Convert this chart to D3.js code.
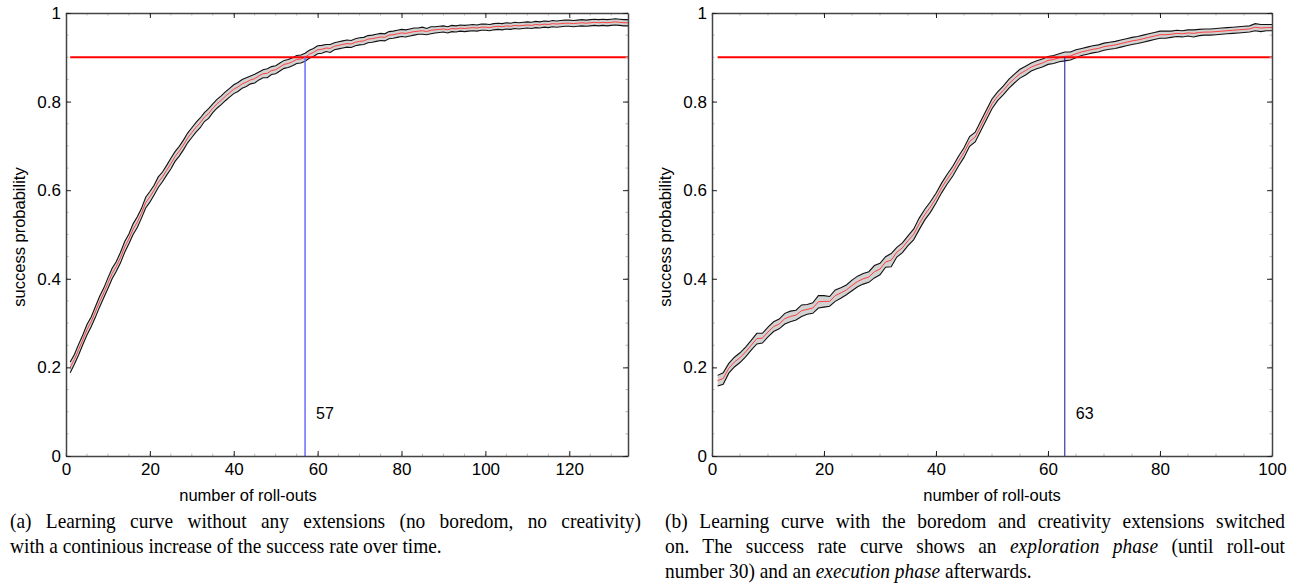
<!DOCTYPE html>
<html lang="en">
<head>
  <meta charset="utf-8">
  <script src="https://d3js.org/d3.v7.min.js"></script>
  <style>
    html, body { margin: 0; padding: 0; background: #fff; }
    svg { display: block; }
    .tick-label { font-family: "Liberation Sans", Arial, sans-serif; font-size: 17px; fill: #000; }
    .axis-title { font-family: "Liberation Sans", Arial, sans-serif; font-size: 16.5px; fill: #000; }
    .mark-label { font-family: "Liberation Sans", Arial, sans-serif; font-size: 16px; fill: #000; }
    .caption { font-family: "Liberation Serif", "Times New Roman", serif; font-size: 20px; fill: #000; }
  </style>
</head>
<body>
  <svg width="1295" height="587"></svg>

  <script>
    const width = 1295, height = 587;

    // (a) success probability per roll-out, no extensions (roll-outs 1..134)
    const meanA = [
      0.200, 0.218, 0.240, 0.262, 0.285, 0.303, 0.325, 0.348, 0.368, 0.390,
      0.412, 0.428, 0.448, 0.472, 0.490, 0.512, 0.528, 0.548, 0.572, 0.585,
      0.600, 0.618, 0.630, 0.645, 0.660, 0.676, 0.688, 0.702, 0.718, 0.730,
      0.742, 0.752, 0.765, 0.773, 0.785, 0.795, 0.803, 0.812, 0.820, 0.828,
      0.833, 0.840, 0.844, 0.849, 0.852, 0.858, 0.863, 0.864, 0.870, 0.872,
      0.878, 0.884, 0.886, 0.890, 0.895, 0.896, 0.900, 0.907, 0.911, 0.917,
      0.918, 0.921, 0.920, 0.925, 0.927, 0.929, 0.931, 0.930, 0.934, 0.936,
      0.937, 0.941, 0.942, 0.944, 0.946, 0.945, 0.950, 0.951, 0.953, 0.955,
      0.954, 0.956, 0.958, 0.959, 0.960, 0.958, 0.961, 0.962, 0.963, 0.964,
      0.962, 0.965, 0.964, 0.966, 0.965, 0.966, 0.967, 0.966, 0.968, 0.968,
      0.967, 0.969, 0.970, 0.969, 0.971, 0.970, 0.972, 0.971, 0.972, 0.973,
      0.972, 0.974, 0.973, 0.975, 0.974, 0.976, 0.975, 0.976, 0.977, 0.977,
      0.976, 0.977, 0.978, 0.977, 0.978, 0.979, 0.978, 0.979, 0.978, 0.979,
      0.980, 0.979, 0.978, 0.978
    ];
    // half width of the grey band
    const errA = [
      0.012, 0.011, 0.012, 0.011, 0.012, 0.011, 0.012, 0.012, 0.011, 0.012,
      0.012, 0.011, 0.012, 0.012, 0.011, 0.012, 0.012, 0.011, 0.012, 0.012,
      0.011, 0.012, 0.011, 0.011, 0.012, 0.011, 0.011, 0.011, 0.011, 0.011,
      0.011, 0.011, 0.010, 0.011, 0.010, 0.010, 0.010, 0.010, 0.010, 0.010,
      0.010, 0.010, 0.010, 0.009, 0.010, 0.009, 0.009, 0.010, 0.009, 0.009,
      0.009, 0.009, 0.009, 0.009, 0.009, 0.009, 0.009, 0.009, 0.009, 0.009,
      0.009, 0.008, 0.009, 0.008, 0.008, 0.008, 0.008, 0.008, 0.008, 0.008,
      0.008, 0.008, 0.008, 0.008, 0.008, 0.008, 0.008, 0.008, 0.008, 0.008,
      0.008, 0.008, 0.008, 0.007, 0.008, 0.007, 0.008, 0.007, 0.007, 0.007,
      0.007, 0.007, 0.007, 0.007, 0.007, 0.007, 0.007, 0.007, 0.007, 0.007,
      0.007, 0.007, 0.007, 0.007, 0.007, 0.007, 0.007, 0.007, 0.007, 0.007,
      0.007, 0.007, 0.007, 0.007, 0.007, 0.007, 0.007, 0.007, 0.007, 0.007,
      0.007, 0.007, 0.007, 0.007, 0.007, 0.007, 0.007, 0.007, 0.007, 0.007,
      0.007, 0.007, 0.007, 0.007
    ];

    // (b) boredom + creativity switched on (roll-outs 1..100)
    const meanB = [
      0.170, 0.175, 0.198, 0.212, 0.222, 0.235, 0.250, 0.265, 0.266, 0.280,
      0.292, 0.298, 0.310, 0.315, 0.318, 0.328, 0.331, 0.334, 0.348, 0.349,
      0.349, 0.362, 0.368, 0.375, 0.385, 0.394, 0.400, 0.404, 0.416, 0.422,
      0.438, 0.442, 0.460, 0.470, 0.486, 0.500, 0.524, 0.545, 0.562, 0.582,
      0.605, 0.625, 0.643, 0.665, 0.685, 0.710, 0.720, 0.745, 0.770, 0.795,
      0.812, 0.825, 0.840, 0.852, 0.863, 0.870, 0.878, 0.883, 0.887, 0.893,
      0.895, 0.899, 0.902, 0.903, 0.908, 0.912, 0.915, 0.918, 0.920, 0.924,
      0.926, 0.928, 0.931, 0.934, 0.937, 0.939, 0.942, 0.945, 0.948, 0.951,
      0.951, 0.952, 0.954, 0.953, 0.955, 0.954, 0.956, 0.957, 0.957, 0.958,
      0.959, 0.960, 0.961, 0.962, 0.963, 0.964, 0.968, 0.966, 0.967, 0.967
    ];
    const errB = [
      0.012, 0.013, 0.011, 0.011, 0.011, 0.011, 0.011, 0.012, 0.011, 0.011,
      0.011, 0.011, 0.012, 0.012, 0.011, 0.013, 0.011, 0.012, 0.014, 0.013,
      0.011, 0.013, 0.012, 0.011, 0.012, 0.012, 0.012, 0.012, 0.014, 0.013,
      0.012, 0.015, 0.011, 0.011, 0.011, 0.012, 0.013, 0.012, 0.012, 0.011,
      0.011, 0.011, 0.011, 0.011, 0.011, 0.011, 0.011, 0.011, 0.011, 0.011,
      0.010, 0.010, 0.010, 0.010, 0.010, 0.010, 0.009, 0.009, 0.009, 0.009,
      0.009, 0.009, 0.010, 0.009, 0.009, 0.008, 0.008, 0.008, 0.008, 0.008,
      0.008, 0.008, 0.008, 0.008, 0.008, 0.008, 0.008, 0.008, 0.008, 0.008,
      0.008, 0.007, 0.007, 0.007, 0.007, 0.008, 0.007, 0.007, 0.007, 0.007,
      0.007, 0.007, 0.007, 0.007, 0.007, 0.007, 0.008, 0.008, 0.007, 0.007
    ];

    const yTicks = [0, 0.2, 0.4, 0.6, 0.8, 1];
    const xTicksA = [0, 20, 40, 60, 80, 100, 120];
    const xTicksB = [0, 20, 40, 60, 80, 100];
    const threshold = 0.9;
    const crossA = 57, crossB = 63;

    const captionA = [
      [["(a) Learning curve without any extensions (no boredom, no creativity)", false]],
      [["with a continious increase of the success rate over time.", false]]
    ];
    const captionB = [
      [["(b) Learning curve with the boredom and creativity extensions switched", false]],
      [["on. The success rate curve shows an ", false], ["exploration phase", true], [" (until roll-out", false]],
      [["number 30) and an ", false], ["execution phase", true], [" afterwards.", false]]
    ];

    const svg = d3.select("svg");

    function drawPanel(opt) {
      const x = d3.scaleLinear().domain(opt.xDomain).range(opt.xRange);
      const y = d3.scaleLinear().domain([0, 1]).range([456, 13]);
      const g = svg.append("g");

      const rows = opt.mean.map((m, i) => ({ r: i + 1, m, e: opt.err[i] }));

      // band
      g.append("path")
        .datum(rows)
        .attr("fill", "#d2d2d2")
        .attr("d", d3.area().x(d => x(d.r)).y0(d => y(d.m - d.e)).y1(d => y(d.m + d.e)));
      [1, -1].forEach(s => {
        g.append("path")
          .datum(rows)
          .attr("fill", "none")
          .attr("stroke", "#111")
          .attr("stroke-width", 1.1)
          .attr("d", d3.line().x(d => x(d.r)).y(d => y(d.m + s * d.e)));
      });
      g.append("path")
        .datum(rows)
        .attr("fill", "none")
        .attr("stroke", "#ff4040")
        .attr("stroke-width", 1)
        .attr("d", d3.line().x(d => x(d.r)).y(d => y(d.m)));

      // threshold
      g.append("line")
        .attr("x1", x(1)).attr("x2", x(opt.xDomain[1]))
        .attr("y1", y(threshold)).attr("y2", y(threshold))
        .attr("stroke", "#ff0000").attr("stroke-width", 2);

      // crossing marker
      g.append("line")
        .attr("x1", x(opt.cross)).attr("x2", x(opt.cross))
        .attr("y1", y(0)).attr("y2", y(threshold))
        .attr("stroke", opt.crossColor).attr("stroke-width", opt.crossWidth);
      g.append("text")
        .attr("class", "mark-label")
        .attr("x", x(opt.cross) + 11)
        .attr("y", 419)
        .text(opt.cross);

      // minor ticks
      const minorX = d3.range(0, opt.xDomain[1] + 0.1, 5);
      const minorY = d3.range(0, 1.001, 0.05);
      const minor = g.append("g").attr("stroke", "#bbb").attr("stroke-width", 1);
      minorX.forEach(v => {
        minor.append("line").attr("x1", x(v)).attr("x2", x(v)).attr("y1", y(0)).attr("y2", y(0) - 2.5);
        minor.append("line").attr("x1", x(v)).attr("x2", x(v)).attr("y1", y(1)).attr("y2", y(1) + 2.5);
      });
      minorY.forEach(v => {
        minor.append("line").attr("x1", x(0)).attr("x2", x(0) + 2.5).attr("y1", y(v)).attr("y2", y(v));
        minor.append("line").attr("x1", x(opt.xDomain[1])).attr("x2", x(opt.xDomain[1]) - 2.5).attr("y1", y(v)).attr("y2", y(v));
      });

      // axes (ticks inside, mirrored)
      const fmtY = d => (d === 0 || d === 1) ? String(d) : d.toFixed(1);
      const axisStyle = sel => {
        sel.select(".domain").attr("stroke", "#444").attr("stroke-width", 1.5);
        sel.selectAll(".tick line").attr("stroke", "#222");
      };
      const labelStyle = s => s.selectAll("text").attr("class", "tick-label").attr("font-family", null).attr("font-size", null);
      g.append("g").attr("transform", `translate(0,${y(0)})`)
        .call(d3.axisBottom(x).tickValues(opt.xTicks).tickSizeInner(-5).tickSizeOuter(0).tickPadding(7))
        .call(axisStyle).call(labelStyle);
      g.append("g").attr("transform", `translate(0,${y(1)})`)
        .call(d3.axisTop(x).tickValues(opt.xTicks).tickSizeInner(-5).tickSizeOuter(0).tickFormat(""))
        .call(axisStyle);
      g.append("g").attr("transform", `translate(${x(0)},0)`)
        .call(d3.axisLeft(y).tickValues(yTicks).tickSizeInner(-5).tickSizeOuter(0).tickPadding(5).tickFormat(fmtY))
        .call(axisStyle).call(labelStyle);
      g.append("g").attr("transform", `translate(${x(opt.xDomain[1])},0)`)
        .call(d3.axisRight(y).tickValues(yTicks).tickSizeInner(-5).tickSizeOuter(0).tickFormat(""))
        .call(axisStyle);

      // titles
      g.append("text")
        .attr("class", "axis-title")
        .attr("text-anchor", "middle")
        .attr("x", opt.xTitleX).attr("y", 501)
        .text("number of roll-outs");
      g.append("text")
        .attr("class", "axis-title")
        .attr("text-anchor", "middle")
        .attr("transform", `translate(${x(0) - 41},${237}) rotate(-90)`)
        .text("success probability");
    }

    drawPanel({
      mean: meanA, err: errA, xDomain: [0, 134], xRange: [66, 628], xTicks: xTicksA,
      cross: crossA, crossColor: "#6b6bff", crossWidth: 1.5, xTitleX: 248
    });
    drawPanel({
      mean: meanB, err: errB, xDomain: [0, 100], xRange: [712, 1272], xTicks: xTicksB,
      cross: crossB, crossColor: "#10109a", crossWidth: 1, xTitleX: 992
    });

    // captions: slightly condensed serif, justified except the last line
    const squeeze = 0.97;
    function drawCaption(lines, x0, x1, y0) {
      lines.forEach((parts, i) => {
        const t = svg.append("text").attr("class", "caption")
          .attr("transform", `translate(${x0},${y0 + i * 25}) scale(${squeeze},1)`);
        parts.forEach(([s, it]) => {
          t.append("tspan").attr("font-style", it ? "italic" : null).text(s);
        });
        if (i < lines.length - 1) {
          const natural = t.node().getComputedTextLength();
          const spaces = parts.map(p => p[0]).join("").split(" ").length - 1;
          t.attr("word-spacing", ((x1 - x0) / squeeze - natural) / spaces);
        }
      });
    }
    drawCaption(captionA, 10, 641, 528);
    drawCaption(captionB, 665, 1285, 528);
  </script>
</body>
</html>
